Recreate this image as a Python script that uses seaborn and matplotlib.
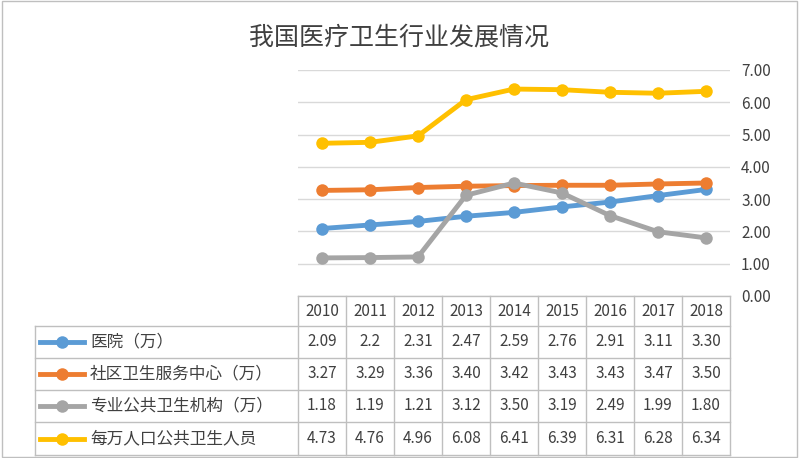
import matplotlib.pyplot as plt
import seaborn as sns
import pandas as pd
from matplotlib.lines import Line2D

plt.rcParams["font.family"] = ["sans-serif"]
plt.rcParams["font.sans-serif"] = ["Noto Sans CJK SC", "Noto Sans CJK JP", "Noto Sans CJK TC",
                                   "Noto Sans CJK KR", "DejaVu Sans"]

years = ["2010", "2011", "2012", "2013", "2014", "2015", "2016", "2017", "2018"]
hospital = [2.09, 2.2, 2.31, 2.47, 2.59, 2.76, 2.91, 3.11, 3.30]
community = [3.27, 3.29, 3.36, 3.40, 3.42, 3.43, 3.43, 3.47, 3.50]
public_inst = [1.18, 1.19, 1.21, 3.12, 3.50, 3.19, 2.49, 1.99, 1.80]
staff = [4.73, 4.76, 4.96, 6.08, 6.41, 6.39, 6.31, 6.28, 6.34]
cell_text = [
    ["2.09", "2.2", "2.31", "2.47", "2.59", "2.76", "2.91", "3.11", "3.30"],
    ["3.27", "3.29", "3.36", "3.40", "3.42", "3.43", "3.43", "3.47", "3.50"],
    ["1.18", "1.19", "1.21", "3.12", "3.50", "3.19", "2.49", "1.99", "1.80"],
    ["4.73", "4.76", "4.96", "6.08", "6.41", "6.39", "6.31", "6.28", "6.34"],
]
names = ["医院（万）", "社区卫生服务中心（万）", "专业公共卫生机构（万）", "每万人口公共卫生人员"]
colors = ["#5B9BD5", "#ED7D31", "#A5A5A5", "#FFC000"]

W, H = 799, 458
fig = plt.figure(figsize=(W / 100, H / 100), dpi=100)
fig.patches.append(plt.Rectangle((0.002, 0.002), 0.996, 0.996, transform=fig.transFigure,
                                 fill=False, edgecolor="#BFBFBF", lw=1))

x0, x1, yt, yb = 298, 730, 70, 296
ax = fig.add_axes([x0 / W, 1 - yb / H, (x1 - x0) / W, (yb - yt) / H])

df = pd.DataFrame({"idx": list(range(len(years))) * 4,
                   "val": hospital + community + public_inst + staff,
                   "series": sum([[n] * len(years) for n in names], [])})
sns.lineplot(data=df, x="idx", y="val", hue="series", palette=colors, marker="o",
             markersize=9, markeredgewidth=0, linewidth=3.5, legend=False, ax=ax)

ax.set_xlim(-0.5, len(years) - 0.5)
ax.set_ylim(0, 7)
ax.set_yticks([i for i in range(8)])
ax.set_yticklabels([f"{i:.2f}" for i in range(8)], fontsize=11, color="#404040")
ax.yaxis.tick_right()
ax.tick_params(axis="y", length=0, pad=8)
ax.set_xticks([])
ax.set_xlabel("")
ax.set_ylabel("")
ax.grid(axis="y", color="#D9D9D9", lw=1)
ax.set_axisbelow(True)
for s in ax.spines.values():
    s.set_visible(False)

fig.text(0.5, 1 - 38 / H, "我国医疗卫生行业发展情况", ha="center", va="center",
         fontsize=18, color="#404040")

# data table
col_w = (x1 - x0) / len(years)
rows_y = [296, 326, 358, 390, 422, 455]
lx = 35
gc = "#BFBFBF"
def fx(p): return p / W
def fy(p): return 1 - p / H
for y in rows_y:
    fig.add_artist(Line2D([fx(x0 if y == rows_y[0] else lx), fx(x1)], [fy(y), fy(y)], color=gc, lw=1))
for i in range(len(years) + 1):
    xx = x0 + i * col_w
    fig.add_artist(Line2D([fx(xx), fx(xx)], [fy(rows_y[0]), fy(rows_y[-1])], color=gc, lw=1))
fig.add_artist(Line2D([fx(lx), fx(lx)], [fy(rows_y[1]), fy(rows_y[-1])], color=gc, lw=1))

for i, yr in enumerate(years):
    fig.text(fx(x0 + (i + 0.5) * col_w), fy((rows_y[0] + rows_y[1]) / 2), yr,
             ha="center", va="center", fontsize=11, color="#404040")
for r in range(4):
    cy = fy((rows_y[r + 1] + rows_y[r + 2]) / 2)
    fig.add_artist(Line2D([fx(40), fx(84)], [cy, cy], color=colors[r], lw=3.5))
    fig.add_artist(Line2D([fx(62)], [cy], color=colors[r], marker="o", markersize=9, markeredgewidth=0))
    fig.text(fx(90), cy, names[r], ha="left", va="center", fontsize=12, color="#404040")
    for i, t in enumerate(cell_text[r]):
        fig.text(fx(x0 + (i + 0.5) * col_w), cy, t, ha="center", va="center",
                 fontsize=11, color="#404040")

fig.savefig("out.png", dpi=100)
